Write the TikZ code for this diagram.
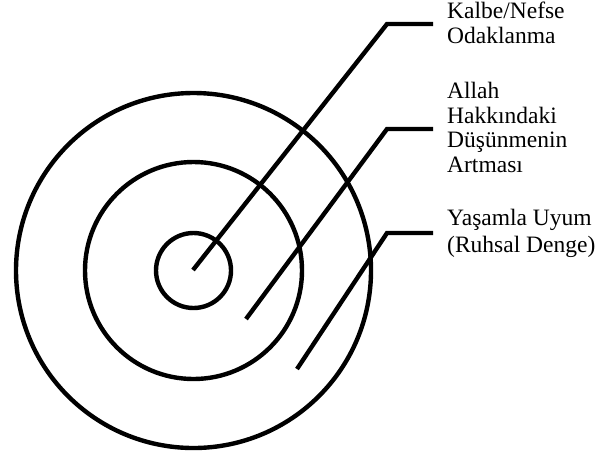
\documentclass[tikz,border=0pt]{standalone}
\usepackage{fontspec}
\setmainfont{Liberation Serif}
\usepackage{tikz}
\usetikzlibrary{positioning,calc}

\tikzset{
  ring/.style={line width=4.4pt},
  leader/.style={line width=4.4pt,line join=miter},
  lbl/.style={anchor=base west,align=left,inner ysep=0pt,inner xsep=14pt,
    font=\fontsize{23.5}{24.5}\selectfont}
}

\begin{document}
\begin{tikzpicture}[x=1pt,y=-1pt]
        \useasboundingbox (0,0) rectangle (599,459);
        % target rings
        \coordinate (ctr) at (193.5,270.5);
        \foreach \r in {37.5,108.5,177.5}
          \draw[ring] (ctr) circle (\r pt);

        % labels on the right (anchored at last baseline)
        \node[lbl] (kalbe) at (433,43) {Kalbe/Nefse\\Odaklanma};
        \node[lbl] (allah) at (433,172) {Allah\\Hakkındaki\\Düşünmenin\\Artması};
        \node[lbl] (uyum) at (433,252) {Yaşamla Uyum\\[2.5pt](Ruhsal Denge)};

        % leader lines
        \coordinate (tip1) at (193,270);
        \coordinate (tip2) at (246,319);
        \coordinate (tip3) at (297,369);
        \foreach \t/\y/\n in {1/24/kalbe, 2/129/allah, 3/233/uyum}
          \draw[leader] (tip\t) -- (387,\y) -- (387,\y -| \n.west);
      \end{tikzpicture}
\end{document}
